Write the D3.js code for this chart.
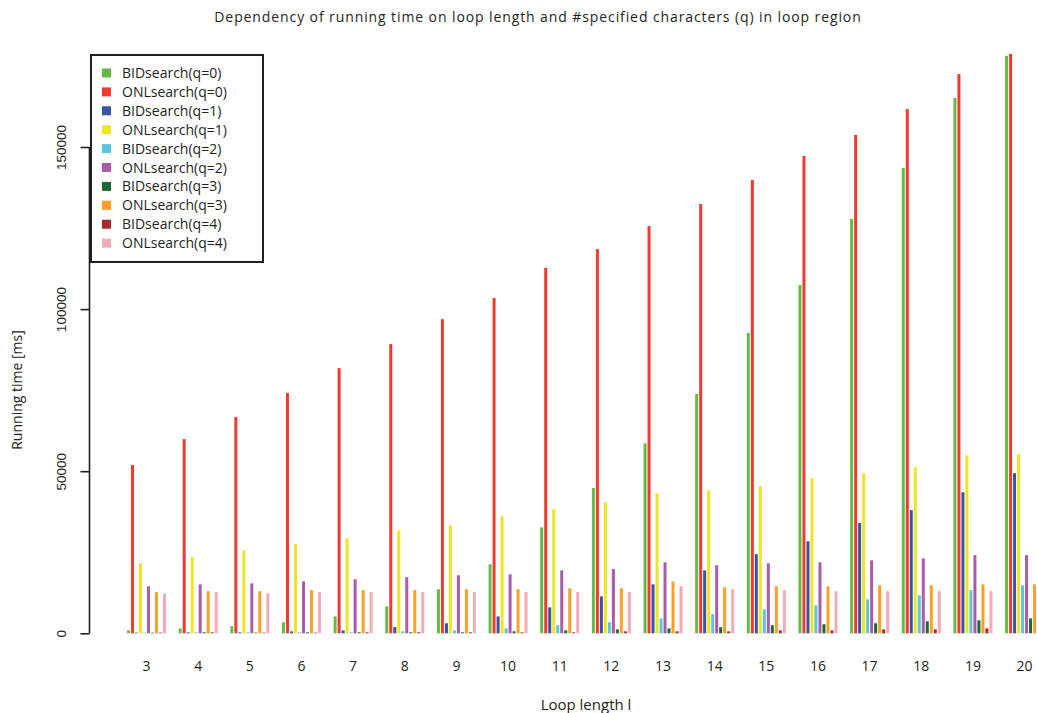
<!DOCTYPE html>
<html>
<head>
<meta charset="utf-8">
<script src="https://cdn.jsdelivr.net/npm/d3@7"></script>
<style>
  body { margin: 0; background: #fff; }
  svg { display: block; font-family: "Open Sans", "Noto Sans", sans-serif; }
</style>
</head>
<body>
<div id="vis"></div>
<script>
( function() {
    var width = 1037,
        height = 713;

    // loop lengths (x groups)
    var loopLengths = [3, 4, 5, 6, 7, 8, 9, 10, 11, 12, 13, 14, 15, 16, 17, 18, 19, 20];

    var seriesNames = ["BIDsearch(q=0)", "ONLsearch(q=0)", "BIDsearch(q=1)", "ONLsearch(q=1)",
        "BIDsearch(q=2)", "ONLsearch(q=2)", "BIDsearch(q=3)", "ONLsearch(q=3)",
        "BIDsearch(q=4)", "ONLsearch(q=4)"];

    // running times in ms
    var bid0 = [900, 1500, 2200, 3400, 5200, 8300, 13600, 21300, 32700, 44800, 58600, 73800, 92600, 107400, 127800, 143500, 165100, 178100];
    var onl0 = [51900, 59900, 66700, 74100, 81800, 89200, 96900, 103400, 112700, 118500, 125600, 132400, 139800, 147200, 153700, 161700, 172500, 178700];
    var bid1 = [200, 300, 300, 600, 900, 1900, 3100, 5200, 8000, 11400, 15100, 19400, 24400, 28400, 34000, 38000, 43500, 49400];
    var onl1 = [21600, 23500, 25600, 27500, 29300, 31800, 33300, 36100, 38300, 40400, 43200, 44100, 45400, 47800, 49400, 51200, 54900, 55200];
    var bid2 = [200, 300, 300, 300, 300, 600, 900, 1500, 2500, 3400, 4600, 5900, 7400, 8600, 10500, 11700, 13300, 14800];
    var onl2 = [14500, 15100, 15400, 16000, 16700, 17300, 17900, 18200, 19400, 19800, 21900, 21000, 21600, 21900, 22500, 23100, 24100, 24100];
    var bid3 = [200, 300, 200, 300, 300, 300, 300, 600, 900, 1200, 1500, 1900, 2500, 2800, 3100, 3700, 4000, 4600];
    var onl3 = [12700, 13000, 13000, 13300, 13300, 13300, 13600, 13600, 13900, 13900, 16000, 14200, 14500, 14500, 14800, 14800, 15100, 15100];
    var bid4 = [200, 300, 200, 200, 300, 300, 300, 300, 300, 600, 600, 600, 900, 900, 1200, 1200, 1500, 1700];
    var onl4 = [12300, 12700, 12300, 12700, 12700, 12700, 12700, 12700, 12700, 12700, 14500, 13600, 13300, 13000, 13000, 13000, 13000, 13000];

    var yTicks = [0, 50000, 100000, 150000];

    var colors = ["#66bb46", "#ef3a30", "#3a54a4", "#ede624", "#5cc7da",
        "#aa5ca8", "#186b37", "#f8a02a", "#a32b2f", "#f5aab8"];

    var allSeries = [bid0, onl0, bid1, onl1, bid2, onl2, bid3, onl3, bid4, onl4];

    var svg = d3.select("#vis")
        .append("svg")
        .attr("width", width)
        .attr("height", height)

    var x = d3.scaleBand()
        .domain(loopLengths)
        .range([120.7, 1050.4])
        .paddingInner(0.245)
        .paddingOuter(0.1225)

    var xInner = d3.scaleBand()
        .domain(d3.range(seriesNames.length))
        .range([0, x.bandwidth()])
        .paddingInner(0.25)

    var y = d3.scaleLinear()
        .domain([0, 150000])
        .range([633.3, 147])

    // bars
    var groups = svg.selectAll(".group")
        .data(loopLengths)
        .enter().append("g")
        .attr("class", "group")
        .attr("transform", function(d) { return "translate(" + x(d) + ",0)"; })

    groups.selectAll("rect")
        .data(function(d, i) {
            return allSeries.map(function(s, k) { return {k: k, v: s[i]}; });
        })
        .enter().append("rect")
        .attr("x", function(d) { return xInner(d.k); })
        .attr("width", xInner.bandwidth())
        .attr("y", function(d) { return y(d.v); })
        .attr("height", function(d) { return y(0) - y(d.v); })
        .attr("fill", function(d) { return colors[d.k]; })

    // y axis, R style
    var yAxis = svg.append("g")
        .attr("transform", "translate(89.5,0)")
        .call(d3.axisLeft(y).tickValues(yTicks).tickSize(9).tickFormat(d3.format("d")))

    yAxis.select(".domain").attr("d", "M0," + y(0) + "V" + y(150000))
        .attr("stroke", "#231f20").attr("stroke-width", 1.6)
    yAxis.selectAll(".tick line").attr("stroke", "#231f20").attr("stroke-width", 1.6)
    yAxis.selectAll(".tick text")
        .attr("x", null).attr("dy", null)
        .attr("transform", "translate(-23.5,0) rotate(-90)")
        .attr("text-anchor", "middle")
        .attr("font-size", 13.5)
        .attr("font-family", null)
        .attr("fill", "#231f20")

    // x labels (no axis line)
    svg.selectAll(".xlab")
        .data(loopLengths)
        .enter().append("text")
        .attr("class", "xlab")
        .attr("x", function(d) { return x(d) + x.bandwidth() / 2; })
        .attr("y", 671)
        .attr("text-anchor", "middle")
        .attr("font-size", 14)
        .attr("fill", "#231f20")
        .text(function(d) { return d; })

    // titles
    svg.append("text")
        .attr("x", 538)
        .attr("y", 22)
        .attr("text-anchor", "middle")
        .attr("font-size", 14)
        .attr("letter-spacing", 0.9)
        .attr("fill", "#231f20")
        .text("Dependency of running time on loop length and #specified characters (q) in loop region")

    svg.append("text")
        .attr("x", 586)
        .attr("y", 710)
        .attr("text-anchor", "middle")
        .attr("font-size", 15)
        .attr("fill", "#231f20")
        .text("Loop length l")

    svg.append("text")
        .attr("transform", "translate(22,390) rotate(-90)")
        .attr("text-anchor", "middle")
        .attr("font-size", 14)
        .attr("fill", "#231f20")
        .text("Running time [ms]")

    // legend
    var legend = svg.append("g")
        .attr("transform", "translate(91,55)")

    legend.append("rect")
        .attr("width", 172)
        .attr("height", 207)
        .attr("fill", "#fff")
        .attr("stroke", "#231f20")
        .attr("stroke-width", 2)

    var items = legend.selectAll(".item")
        .data(seriesNames)
        .enter().append("g")
        .attr("class", "item")
        .attr("transform", function(d, i) { return "translate(0," + (18 + i * 18.9) + ")"; })

    items.append("rect")
        .attr("x", 11)
        .attr("y", -4.5)
        .attr("width", 9)
        .attr("height", 9)
        .attr("fill", function(d, i) { return colors[i]; })

    items.append("text")
        .attr("x", 31)
        .attr("y", 5)
        .attr("font-size", 14)
        .attr("fill", "#231f20")
        .text(function(d) { return d; })

}) ();
</script>
</body>
</html>
